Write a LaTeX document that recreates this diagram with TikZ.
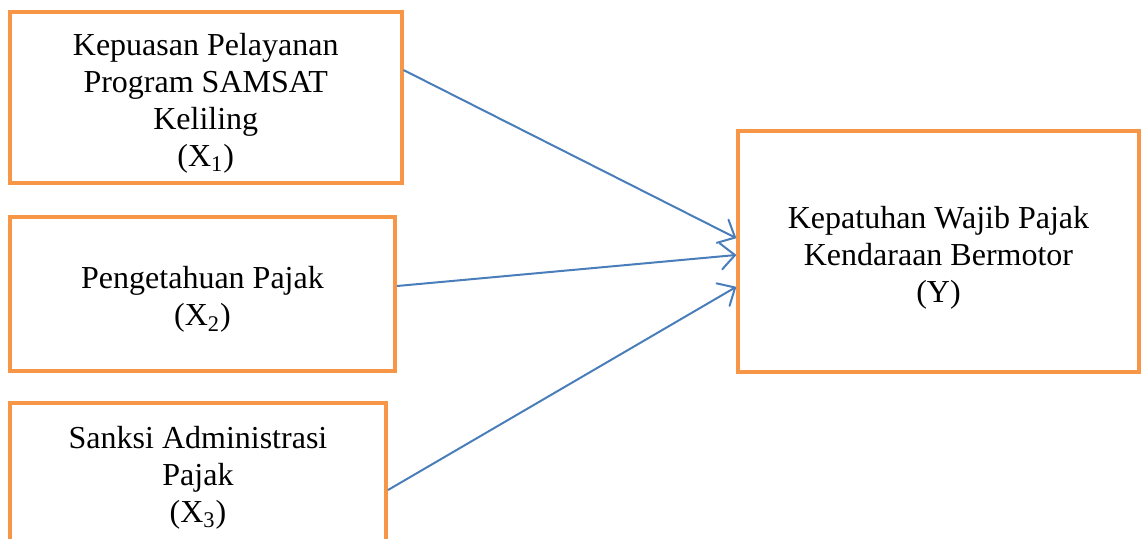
\documentclass[tikz,border=0pt]{standalone}
\usepackage{fontspec}
\setmainfont{Liberation Serif}
\usetikzlibrary{arrows.meta,calc}
\definecolor{boxorange}{HTML}{F79646}
\definecolor{arrowblue}{HTML}{4A7EBB}
\newcommand{\varlines}[2][3pt]{\raisebox{-#1}[\height][\depth]{\begin{tabular}{@{}c@{}}#2\end{tabular}}}

\begin{document}
\begin{tikzpicture}[
  x=0.5pt, y=-0.5pt,
  font=\fontsize{16}{18.5}\selectfont,
  var/.style={draw=boxorange, line width=2pt, align=center, inner sep=0pt, fill=white},
  path/.style={arrowblue, line width=1pt, -{Straight Barb[length=7pt, width=13pt, round]}}
]
\useasboundingbox (0,0) rectangle (1147,538);

% Main boxes
\node[var, minimum width=195.75pt, minimum height=85.25pt] (x1) at (205.75,97.25) {%
\varlines{Kepuasan Pelayanan\\
Program SAMSAT\\
Keliling\\
(X\textsubscript{1})}%
};

\node[var, minimum width=192.5pt, minimum height=77pt] (x2) at (202.5,294) {%
\varlines{Pengetahuan Pajak\\
(X\textsubscript{2})}%
};

\node[var, minimum width=188pt, minimum height=69pt] (x3) at (198,472) {%
\varlines{Sanksi Administrasi\\
Pajak\\
(X\textsubscript{3})}%
};

\node[var, minimum width=200.5pt, minimum height=120.5pt] (y) at (938.5,251.5) {%
\varlines[3.5pt]{Kepatuhan Wajib Pajak\\
Kendaraan Bermotor\\
(Y)}%
};

% Paths to Y
\draw[path] (x1.east |- 0,70) -- (y.west |- 0,238);
\draw[path] (x2.east |- 0,286) -- (y.west |- 0,255);
\draw[path] (x3.east |- 0,490) -- (y.west |- 0,287);

\end{tikzpicture}
\end{document}
